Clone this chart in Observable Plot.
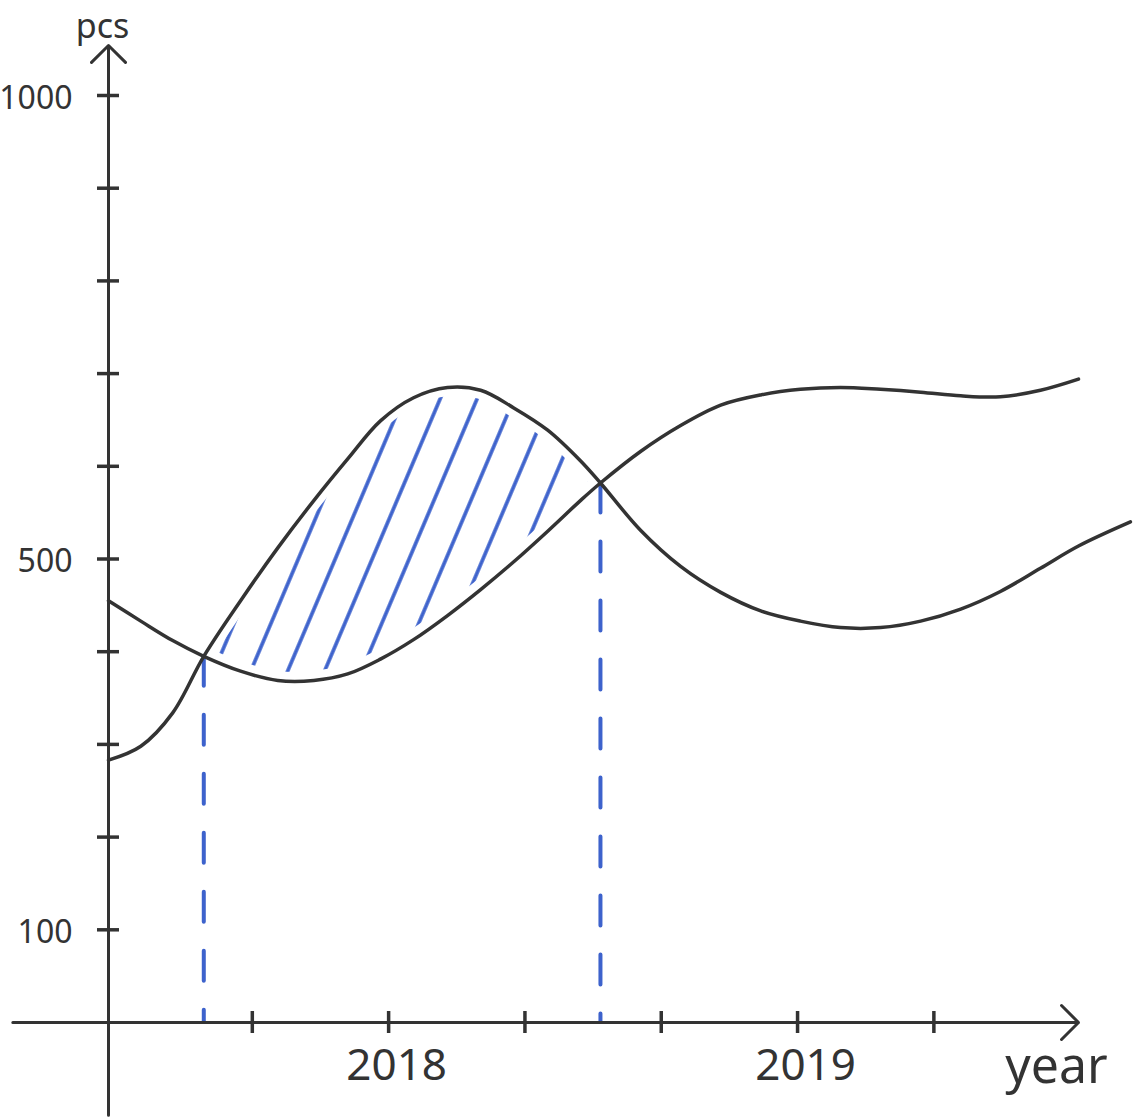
<!DOCTYPE html>
<html>
<head>
<meta charset="utf-8">
<script src="https://cdn.jsdelivr.net/npm/d3@7"></script>
<script src="https://cdn.jsdelivr.net/npm/@observablehq/plot@0.6"></script>
<style>
  html, body { margin: 0; padding: 0; background: #ffffff; }
  #chart svg { display: block; }
</style>
</head>
<body>
<div id="chart"></div>
<script>
// ---- data (decimal years, pieces) ----
const t = [2017.315, 2017.394, 2017.472, 2017.548, 2017.638, 2017.729, 2017.817, 2017.900, 2017.980,
           2018.061, 2018.144, 2018.225, 2018.306, 2018.389, 2018.469, 2018.518, 2018.616, 2018.714,
           2018.812, 2018.910, 2019.007, 2019.105, 2019.203, 2019.301, 2019.399, 2019.496, 2019.594,
           2019.687, 2019.814];
const seriesA = [455, 433, 412, 395, 379, 369, 369, 376, 392, 413, 439, 467, 497, 530, 563, 582,
                 616, 644, 666, 677, 683, 685, 683, 680, 676, 675, 682, 694, null];
const seriesB = [283, 298, 334, 395, 455, 512, 563, 608, 649, 674, 685, 682, 663, 639, 606, 582,
                 531, 492, 464, 444, 433, 426, 426, 433, 446, 465, 490, 514, 540];

const yTicks = [100, 200, 300, 400, 500, 600, 700, 800, 900, 1000];
const yLabels = [100, 500, 1000];
const xTicks = [2017 + 2/3, 2018, 2018 + 1/3, 2018 + 2/3, 2019, 2019 + 1/3];
const xLabels = [2018, 2019];

// axis extents
const xStart = 2017.315, xEnd = 2019.687, xAxisLeft = 2017.081;
const yBottom = -100, yTop = 1054;

const rows = t.map((d, i) => ({t: d, a: seriesA[i], b: seriesB[i]}));
const crossRows = rows.filter(d => d.a != null && d.a === d.b);
const xc0 = crossRows[0].t, xc1 = crossRows[crossRows.length - 1].t;

const ink = "#333333";
const blue = "#3d62cc";
const tickHalfX = 11 / 409;   // ~11px in years
const tickHalfY = 11 / 0.927; // ~11px in pieces

const chart = Plot.plot({
  width: 1135,
  height: 1120,
  marginLeft: 108,
  marginRight: 57,
  marginTop: 95,
  marginBottom: 98,
  style: {fontFamily: "'Noto Sans', sans-serif", color: ink, background: "#ffffff", overflow: "visible"},
  x: {domain: [xStart, xEnd], axis: null},
  y: {domain: [0, 1000], axis: null},
  marks: [
    // hatched region between the two curves
    Plot.areaY(rows, {
      filter: d => d.t >= xc0 && d.t <= xc1,
      x: "t", y1: "a", y2: "b", curve: "catmull-rom",
      fill: "url(#hatch)", stroke: "#ffffff", strokeWidth: 18, strokeLinejoin: "round"
    }),
    // dashed drop lines at the intersections
    Plot.ruleX(crossRows, {x: "t", y1: "a", y2: 0, stroke: blue, strokeWidth: 4,
      strokeDasharray: "30,29", strokeLinecap: "round"}),
    // the two curves
    Plot.line(rows, {x: "t", y: "a", curve: "catmull-rom", stroke: ink, strokeWidth: 3.5}),
    Plot.line(rows, {x: "t", y: "b", curve: "catmull-rom", stroke: ink, strokeWidth: 3.5}),
    // axes with arrowheads
    Plot.arrow([0], {x1: xAxisLeft, y1: 0, x2: xEnd, y2: 0, stroke: ink, strokeWidth: 3,
      headAngle: 90, headLength: 12}),
    Plot.arrow([0], {x1: xStart, y1: yBottom, x2: xStart, y2: yTop, stroke: ink, strokeWidth: 3,
      headAngle: 90, headLength: 12}),
    // tick marks crossing the axes
    Plot.ruleY(yTicks, {y: d => d, x1: xStart - tickHalfX, x2: xStart + tickHalfX, stroke: ink, strokeWidth: 3.5}),
    Plot.ruleX(xTicks, {x: d => d, y1: -tickHalfY, y2: tickHalfY, stroke: ink, strokeWidth: 3.5}),
    // tick labels
    Plot.text(yLabels, {x: xStart, y: d => d, text: d => String(d), textAnchor: "end", dx: -36, dy: 3,
      fontSize: 32, fill: ink}),
    Plot.text(xLabels, {x: d => d, y: 0, text: d => String(d), dx: 8, dy: 43, fontSize: 44, fill: ink}),
    // axis titles
    Plot.text(["pcs"], {x: xStart, y: yTop, text: d => d, dx: -6, dy: -18, fontSize: 34, fill: ink}),
    Plot.text(["year"], {x: xEnd, y: 0, text: d => d, dx: -22, dy: 44, fontSize: 50, fill: ink})
  ]
});

// hatch pattern definition
const ns = "http://www.w3.org/2000/svg";
const defs = document.createElementNS(ns, "defs");
const pat = document.createElementNS(ns, "pattern");
pat.setAttribute("id", "hatch");
pat.setAttribute("patternUnits", "userSpaceOnUse");
pat.setAttribute("width", "34");
pat.setAttribute("height", "34");
pat.setAttribute("patternTransform", "rotate(23)");
const ln = document.createElementNS(ns, "line");
ln.setAttribute("x1", "17"); ln.setAttribute("y1", "-2");
ln.setAttribute("x2", "17"); ln.setAttribute("y2", "36");
ln.setAttribute("stroke", blue);
ln.setAttribute("stroke-width", "3.6");
pat.appendChild(ln);
defs.appendChild(pat);
chart.insertBefore(defs, chart.firstChild);

document.getElementById("chart").appendChild(chart);
</script>
</body>
</html>
